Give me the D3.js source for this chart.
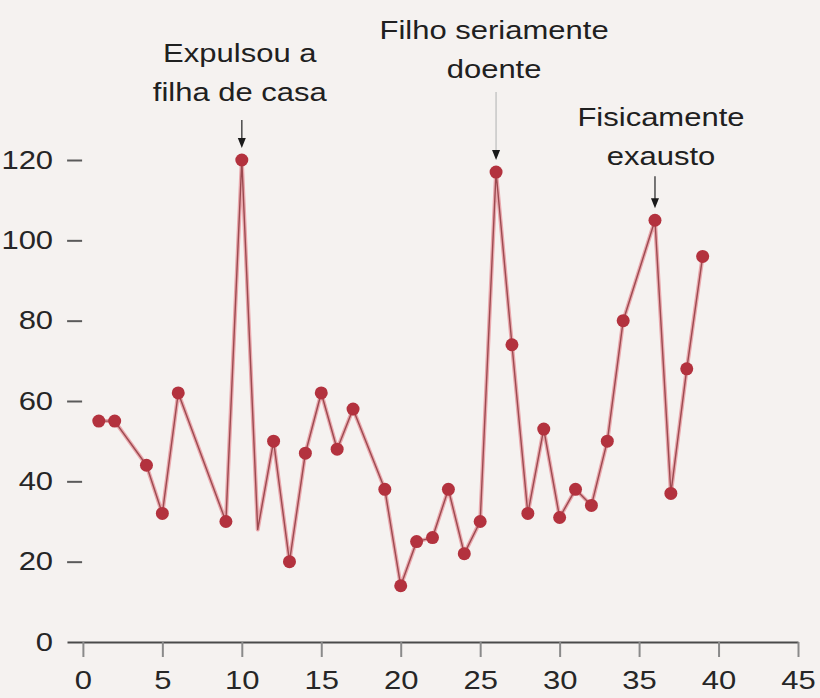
<!DOCTYPE html>
<html lang="pt">
<head>
    <meta charset="UTF-8">
    <style>
        body {
            margin: 0;
            padding: 0;
            background-color: #f5f2f0;
            overflow: hidden;
        }

        #chart {
            display: block;
        }

        .axis text {
            font-family: "Liberation Sans", Arial, sans-serif;
            font-size: 25px;
            fill: #262626;
        }

        .note {
            font-family: "Liberation Sans", Arial, sans-serif;
            font-size: 25px;
            fill: #202020;
            text-anchor: middle;
            dominant-baseline: central;
        }
    </style>
</head>
<body>
    <svg id="chart"></svg>

    <script src="https://d3js.org/d3.v7.min.js"></script>
    <script>
        const width = 820;
        const height = 698;

        // days with a reading, and the score on that day
        const days = [1, 2, 4, 5, 6, 9, 10, 11, 12, 13, 14, 15, 16, 17, 19, 20, 21, 22, 23, 24,
                      25, 26, 27, 28, 29, 30, 31, 32, 33, 34, 36, 37, 38, 39];
        const scores = [55, 55, 44, 32, 62, 30, 120, 28, 50, 20, 47, 62, 48, 58, 38, 14, 25, 26, 38, 22,
                        30, 117, 74, 32, 53, 31, 38, 34, 50, 80, 105, 37, 68, 96];
        const unmarkedDays = [11]; // line bends here but no dot is drawn

        const xTicks = [0, 5, 10, 15, 20, 25, 30, 35, 40, 45];
        const yTicks = [0, 20, 40, 60, 80, 100, 120];

        const noteDays = [10, 26, 36];
        const noteLines = [
            ["Expulsou a", "filha de casa"],
            ["Filho seriamente", "doente"],
            ["Fisicamente", "exausto"]
        ];

        const stretch = 1.24; // the lettering in the original is wide

        const svg = d3.select("#chart")
            .attr("width", width)
            .attr("height", height);

        const x = d3.scaleLinear().domain([-1, 45]).range([67, 798]);
        const y = d3.scaleLinear().domain([0, 120]).range([642, 160]);

        // x axis
        const xAxis = svg.append("g")
            .attr("class", "axis")
            .attr("transform", `translate(0,${y(0)})`)
            .call(d3.axisBottom(x).tickValues(xTicks).tickSize(15).tickPadding(14).tickSizeOuter(0));
        xAxis.select(".domain").attr("stroke", "#4a4a4a").attr("stroke-width", 2.2);
        xAxis.selectAll(".tick line").attr("stroke", "#8a8a8a").attr("stroke-width", 2);
        xAxis.selectAll(".tick text").attr("transform", `scale(${stretch},1)`);

        // y axis: only the little dashes and the numbers
        const yAxis = svg.append("g")
            .attr("class", "axis")
            .attr("transform", `translate(${x(-0.05)},0)`)
            .call(d3.axisLeft(y).tickValues(yTicks).tickSize(15).tickPadding(14));
        yAxis.select(".domain").remove();
        yAxis.selectAll(".tick line").attr("stroke", "#5a5a5a").attr("stroke-width", 2);
        yAxis.selectAll(".tick").filter(d => d === 0).select("line").remove();
        yAxis.selectAll(".tick text")
            .attr("x", -29 / stretch)
            .attr("transform", `scale(${stretch},1)`);

        const points = days.map((d, i) => ({ day: d, score: scores[i] }));

        const line = d3.line()
            .x(d => x(d.day))
            .y(d => y(d.score));

        // soft pink halo then the darker core
        svg.append("path")
            .datum(points)
            .attr("fill", "none")
            .attr("stroke", "#eaa9ae")
            .attr("stroke-width", 4)
            .attr("stroke-linejoin", "round")
            .attr("d", line);

        svg.append("path")
            .datum(points)
            .attr("fill", "none")
            .attr("stroke", "#9c4a50")
            .attr("stroke-width", 1.4)
            .attr("stroke-linejoin", "round")
            .attr("d", line);

        svg.append("g")
            .selectAll("circle")
            .data(points.filter(p => !unmarkedDays.includes(p.day)))
            .enter().append("circle")
            .attr("cx", d => x(d.day))
            .attr("cy", d => y(d.score))
            .attr("r", 6.5)
            .attr("fill", "#b3323e");

        // annotations
        const arrowLen = [28, 68, 32];
        const arrowColor = ["#555", "#c9c9c9", "#555"];
        const textGap = [27, 22, 20];
        const textShift = [-2, -2, 6];
        const lineHeight = 39;

        noteDays.forEach((day, i) => {
            const score = scores[days.indexOf(day)];
            const cx = x(day);
            const tip = y(score) - 12;
            const top = tip - arrowLen[i];
            const g = svg.append("g");

            g.append("line")
                .attr("x1", cx).attr("x2", cx)
                .attr("y1", top).attr("y2", tip - 6)
                .attr("stroke", arrowColor[i])
                .attr("stroke-width", 1.6);

            g.append("path")
                .attr("d", `M${cx - 4},${tip - 10} L${cx + 4},${tip - 10} L${cx},${tip} Z`)
                .attr("fill", "#1a1a1a");

            const lines = noteLines[i];
            lines.forEach((t, j) => {
                const ty = top - textGap[i] - (lines.length - 1 - j) * lineHeight;
                g.append("text")
                    .attr("class", "note")
                    .attr("transform", `translate(${cx + textShift[i]},${ty}) scale(${stretch},1)`)
                    .text(t);
            });
        });
    </script>
</body>
</html>
